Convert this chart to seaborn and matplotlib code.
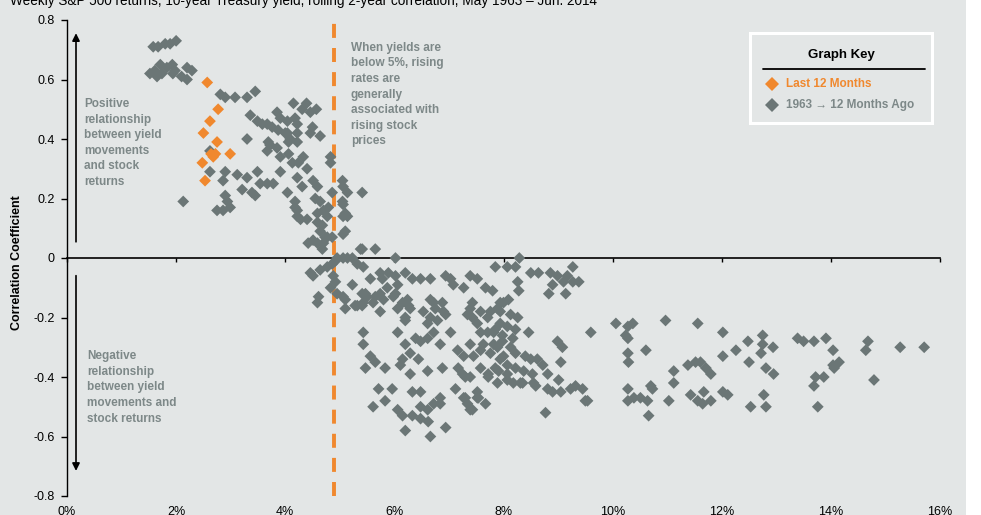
import numpy as np
import pandas as pd
import matplotlib
matplotlib.use("Agg")
import matplotlib.pyplot as plt
from matplotlib.patches import Rectangle
from matplotlib.lines import Line2D
import seaborn as sns

# colours
BG = "#e3e6e6"
GRAY = "#6b7676"
ORANGE = "#f0882e"
TXT = "#7d8888"

# ---- data: (10y yield %, rolling 2y correlation) ----
top_left = [(1.58, 0.71), (1.67, 0.71), (1.80, 0.72), (1.89, 0.72), (2.00, 0.73),
            (1.52, 0.62), (1.61, 0.63), (1.71, 0.65), (1.74, 0.62), (1.83, 0.64),
            (1.93, 0.65), (1.94, 0.62), (1.98, 0.63), (2.20, 0.64), (2.29, 0.63),
            (2.20, 0.60), (1.65, 0.61), (2.10, 0.61)]

upper_mid = [(2.81, 0.55), (2.90, 0.54), (3.08, 0.54), (3.30, 0.54), (3.45, 0.56),
             (3.36, 0.48), (3.49, 0.46), (3.58, 0.45), (3.67, 0.45), (3.76, 0.44),
             (3.85, 0.49), (3.91, 0.47), (4.04, 0.46), (4.15, 0.52), (4.31, 0.50),
             (4.18, 0.47), (4.22, 0.45), (3.87, 0.43), (4.04, 0.42), (4.22, 0.42),
             (4.50, 0.44), (4.64, 0.41), (3.30, 0.40), (3.72, 0.38), (3.85, 0.37),
             (4.06, 0.39), (4.22, 0.39), (4.33, 0.34), (3.91, 0.34), (3.67, 0.36),
             (2.62, 0.36), (4.83, 0.34), (4.39, 0.52), (4.57, 0.50), (4.46, 0.49)]

falling_arm = [(3.69, 0.39), (4.00, 0.42), (4.09, 0.40), (4.46, 0.42), (4.06, 0.35),
               (4.13, 0.32), (4.24, 0.32), (4.40, 0.30), (4.22, 0.27), (4.83, 0.32),
               (2.62, 0.29), (2.90, 0.29), (3.12, 0.28), (3.30, 0.27), (3.49, 0.29),
               (2.86, 0.26), (3.21, 0.23), (3.39, 0.22), (3.45, 0.21), (3.54, 0.25),
               (3.67, 0.25), (3.78, 0.25), (3.91, 0.29), (4.04, 0.22), (4.18, 0.19),
               (4.31, 0.24), (4.51, 0.26), (4.59, 0.24), (4.55, 0.20), (4.64, 0.19),
               (4.22, 0.16), (4.28, 0.13), (4.40, 0.13), (4.59, 0.15), (4.70, 0.16),
               (4.77, 0.14), (4.68, 0.11), (4.64, 0.09), (4.77, 0.07), (4.51, 0.06),
               (4.42, 0.05), (4.70, 0.05), (4.86, 0.07), (4.86, 0.22), (5.05, 0.26),
               (5.06, 0.24), (5.14, 0.22), (5.05, 0.19), (5.10, 0.15), (5.14, 0.14),
               (5.10, 0.09), (5.41, 0.22), (2.13, 0.19), (2.90, 0.21), (2.94, 0.19),
               (2.75, 0.16), (2.86, 0.16), (2.99, 0.17), (5.41, 0.03), (5.06, 0.00),
               (4.95, 0.00)]

near_zero = [(4.18, 0.17), (4.22, 0.14), (4.59, 0.12), (4.79, 0.17), (5.06, 0.18),
             (5.06, 0.14), (5.06, 0.08), (4.59, 0.05), (4.68, 0.03), (4.73, 0.07),
             (4.86, -0.02), (4.92, -0.01), (5.14, 0.00), (5.23, 0.00), (5.38, 0.03),
             (5.65, 0.03), (6.02, 0.00), (5.32, -0.02), (5.43, -0.03), (4.46, -0.05),
             (4.61, -0.13), (4.59, -0.15), (4.83, -0.10), (4.92, -0.08), (5.06, -0.13),
             (5.10, -0.17), (5.23, -0.09), (5.41, -0.12), (5.50, -0.13), (5.56, -0.07),
             (5.74, -0.05), (5.78, -0.07), (5.89, -0.05), (6.02, -0.06), (6.20, -0.05),
             (6.33, -0.07), (6.48, -0.07), (6.66, -0.07), (6.94, -0.06), (7.03, -0.07),
             (6.06, -0.09), (5.87, -0.10), (5.74, -0.12), (5.80, -0.14), (5.61, -0.15),
             (5.32, -0.16), (5.41, -0.16), (5.74, -0.18), (5.98, -0.13), (6.24, -0.14),
             (6.29, -0.17), (6.20, -0.20), (6.66, -0.14), (6.75, -0.17), (6.90, -0.18),
             (7.08, -0.09), (4.88, -0.06), (4.77, -0.03), (4.51, -0.06), (4.64, -0.04)]

mid_cloud = [(4.95, -0.12), (5.10, -0.14), (5.28, -0.16), (5.43, -0.15), (5.47, -0.12),
             (5.65, -0.13), (6.02, -0.12), (6.15, -0.15), (6.26, -0.16), (6.06, -0.17),
             (6.20, -0.21), (6.53, -0.18), (6.66, -0.20), (6.72, -0.15), (6.88, -0.15),
             (6.94, -0.19), (6.61, -0.22), (6.79, -0.21), (5.43, -0.25), (5.43, -0.29),
             (5.56, -0.33), (5.47, -0.37), (5.65, -0.35), (5.83, -0.37), (6.06, -0.25),
             (6.20, -0.29), (6.29, -0.32), (6.15, -0.34), (6.11, -0.36), (6.29, -0.39),
             (6.39, -0.27), (6.48, -0.28), (6.61, -0.27), (6.72, -0.25), (6.84, -0.29),
             (6.44, -0.34), (6.61, -0.38), (6.88, -0.37), (7.03, -0.25), (7.16, -0.31),
             (7.27, -0.33), (7.17, -0.37), (7.39, -0.29), (7.45, -0.33), (7.63, -0.29),
             (7.76, -0.32), (7.89, -0.30), (8.00, -0.33), (7.25, -0.39), (7.39, -0.40),
             (7.58, -0.37), (7.72, -0.39), (7.91, -0.38), (8.07, -0.39), (7.39, -0.17),
             (7.43, -0.15), (7.71, -0.20), (7.89, -0.17), (8.00, -0.15), (7.52, -0.22),
             (7.82, -0.25), (7.98, -0.26), (5.71, -0.44), (5.96, -0.44), (6.33, -0.45),
             (6.48, -0.45), (6.84, -0.47), (7.12, -0.44), (7.27, -0.47), (7.34, -0.49),
             (7.52, -0.47), (7.67, -0.49), (7.39, -0.51), (5.61, -0.50), (5.83, -0.48),
             (6.06, -0.51), (6.15, -0.53), (6.33, -0.53), (6.48, -0.54), (6.48, -0.50),
             (6.61, -0.51), (6.72, -0.49), (6.84, -0.49), (6.62, -0.55), (6.20, -0.58),
             (6.66, -0.60), (6.94, -0.57)]

right_cloud = [(8.29, 0.00), (7.85, -0.03), (8.07, -0.03), (8.22, -0.03), (8.50, -0.05),
               (8.64, -0.05), (8.86, -0.05), (8.99, -0.06), (9.17, -0.06), (9.27, -0.03),
               (9.38, -0.08), (9.27, -0.08), (9.10, -0.08), (8.90, -0.09), (8.83, -0.12),
               (9.14, -0.12), (8.26, -0.08), (8.28, -0.11), (8.09, -0.14), (7.94, -0.15),
               (7.39, -0.06), (7.52, -0.07), (7.67, -0.10), (7.80, -0.11), (7.27, -0.10),
               (7.34, -0.19), (7.43, -0.20), (7.58, -0.18), (7.76, -0.18), (7.94, -0.18),
               (8.13, -0.19), (8.26, -0.20), (7.94, -0.22), (8.07, -0.23), (8.22, -0.24),
               (8.17, -0.27), (7.85, -0.24), (7.71, -0.25), (7.58, -0.25), (7.58, -0.31),
               (7.82, -0.29), (7.98, -0.28), (8.13, -0.30), (8.22, -0.32), (8.46, -0.25),
               (8.40, -0.33), (8.50, -0.34), (8.62, -0.34), (8.72, -0.36), (8.81, -0.39),
               (7.94, -0.34), (8.07, -0.36), (8.22, -0.37), (8.37, -0.38), (8.35, -0.42),
               (8.55, -0.42), (8.59, -0.43), (8.53, -0.39), (7.85, -0.37), (7.72, -0.40),
               (7.30, -0.40), (7.89, -0.42), (8.07, -0.41), (8.18, -0.42), (8.31, -0.42),
               (8.99, -0.28), (9.08, -0.30), (9.05, -0.35), (9.01, -0.41), (8.81, -0.44),
               (8.90, -0.45), (9.05, -0.45), (9.23, -0.44), (9.32, -0.43), (9.45, -0.44),
               (9.54, -0.48), (7.30, -0.47), (7.52, -0.45), (7.54, -0.47), (7.43, -0.51),
               (8.77, -0.52), (9.60, -0.25)]

high_yield = [(10.06, -0.22), (10.28, -0.23), (10.37, -0.22), (10.24, -0.26), (10.28, -0.27),
              (10.97, -0.21), (11.56, -0.22), (12.02, -0.25), (12.48, -0.28), (12.75, -0.26),
              (12.75, -0.29), (12.72, -0.32), (12.94, -0.30), (12.26, -0.31), (12.02, -0.33),
              (10.61, -0.31), (10.28, -0.32), (10.29, -0.35), (11.12, -0.38), (11.12, -0.42),
              (11.38, -0.36), (11.52, -0.35), (11.61, -0.35), (11.71, -0.37), (11.80, -0.39),
              (12.50, -0.35), (12.81, -0.37), (12.95, -0.39), (13.39, -0.27), (13.50, -0.28),
              (13.69, -0.28), (13.91, -0.27), (14.04, -0.31), (14.15, -0.35), (14.04, -0.36),
              (14.06, -0.37), (13.87, -0.40), (13.72, -0.40), (13.69, -0.43), (13.76, -0.50),
              (14.68, -0.28), (14.64, -0.31), (14.79, -0.41), (15.27, -0.30), (15.71, -0.30),
              (9.50, -0.48), (10.28, -0.44), (10.39, -0.47), (10.28, -0.48), (10.51, -0.47),
              (10.64, -0.48), (10.70, -0.43), (10.73, -0.44), (10.66, -0.53), (11.03, -0.48),
              (11.43, -0.46), (11.56, -0.48), (11.67, -0.45), (11.65, -0.49), (11.80, -0.48),
              (12.02, -0.45), (12.11, -0.46), (12.77, -0.46), (12.53, -0.50), (12.81, -0.50)]

last_12m = [(2.57, 0.59), (2.77, 0.50), (2.62, 0.46), (2.50, 0.42), (2.75, 0.39),
            (2.64, 0.35), (2.72, 0.35), (2.68, 0.34), (2.99, 0.35), (2.48, 0.32),
            (2.53, 0.26)]

x_ticks = [0, 2, 4, 6, 8, 10, 12, 14, 16]
x_labels = ["0%", "2%", "4%", "6%", "8%", "10%", "12%", "14%", "16%"]
y_ticks = [-0.8, -0.6, -0.4, -0.2, 0, 0.2, 0.4, 0.6, 0.8]
y_labels = ["-0.8", "-0.6", "-0.4", "-0.2", "0", "0.2", "0.4", "0.6", "0.8"]
threshold = 4.9

title = ("Weekly S&P 500 returns, 10-year Treasury yield, rolling 2-year correlation, "
         "May 1963 \u2013 Jun. 2014")
pos_note = "Positive\nrelationship\nbetween yield\nmovements\nand stock\nreturns"
neg_note = "Negative\nrelationship\nbetween yield\nmovements and\nstock returns"
mid_note = ("When yields are\nbelow 5%, rising\nrates are\ngenerally\nassociated with\n"
            "rising stock\nprices")

hist = top_left + upper_mid + falling_arm + near_zero + mid_cloud + right_cloud + high_yield
df = pd.DataFrame(hist + last_12m, columns=["yield", "corr"])
df["period"] = ["1963 \u2192 12 Months Ago"] * len(hist) + ["Last 12 Months"] * len(last_12m)

# ---- style ----
sns.set_theme(style="white")
plt.rcParams["font.family"] = ["Liberation Sans", "DejaVu Sans"]

W, H = 981, 515
fig = plt.figure(figsize=(W / 100, H / 100), dpi=100)
fig.patch.set_facecolor("white")
fig.patches.append(Rectangle((0, 0), 966 / W, 1, transform=fig.transFigure,
                             facecolor=BG, edgecolor="none", zorder=-10))

ax = fig.add_axes([67 / W, 19 / H, 873 / W, 476 / H])
ax.set_facecolor("none")

sns.scatterplot(data=df, x="yield", y="corr", hue="period",
                palette={"1963 \u2192 12 Months Ago": GRAY, "Last 12 Months": ORANGE},
                marker="D", s=36, linewidth=0, legend=False, ax=ax, zorder=3)

ax.set_xlim(0, 16)
ax.set_ylim(-0.8, 0.8)
ax.set_xticks(x_ticks)
ax.set_xticklabels(x_labels)
ax.set_yticks(y_ticks)
ax.set_yticklabels(y_labels)
ax.set_xlabel("")
ax.set_ylabel("Correlation Coefficient", fontsize=9, fontweight="bold", color="black")
ax.yaxis.set_label_coords(-44 / 873, 0.49)

for s in ["top", "right", "bottom"]:
    ax.spines[s].set_visible(False)
ax.spines["left"].set_color("black")
ax.spines["left"].set_linewidth(1.0)
ax.tick_params(axis="x", length=0, pad=7, labelsize=9, labelcolor="black")
ax.tick_params(axis="y", left=True, direction="out", length=4, width=1,
               color="black", labelsize=9, labelcolor="black", pad=5)

# zero line with small ticks
sec = ax.secondary_xaxis(0.4999)
sec.set_xticks(x_ticks)
sec.tick_params(bottom=True, top=False, labelbottom=False, labeltop=False,
                direction="out", length=3, width=1, color="black")
for s in sec.spines.values():
    s.set_color("black")
    s.set_linewidth(1.2)

# 5% threshold line
ax.axvline(threshold, color=ORANGE, lw=2.8, dashes=(3.6, 2.6), zorder=2)

# arrows and notes
ax.annotate("", xy=(0.165, 0.765), xytext=(0.165, 0.045),
            arrowprops=dict(arrowstyle="-|>", color="black", lw=1.2, mutation_scale=11))
ax.annotate("", xy=(0.165, -0.725), xytext=(0.165, -0.05),
            arrowprops=dict(arrowstyle="-|>", color="black", lw=1.2, mutation_scale=11))
ax.text(0.31, 0.538, pos_note, color=TXT, fontsize=8.5, fontweight="bold",
        va="top", ha="left", linespacing=1.4)
ax.text(0.37, -0.31, neg_note, color=TXT, fontsize=8.5, fontweight="bold",
        va="top", ha="left", linespacing=1.4)
ax.text(5.2, 0.727, mid_note, color=TXT, fontsize=8.5, fontweight="bold",
        va="top", ha="left", linespacing=1.4)

# title (cropped at the top of the picture)
fig.text(10 / W, 1 - 5 / H, title, fontsize=9.8, color="black", va="baseline", ha="left")

# graph key
fig.patches.append(Rectangle((750 / W, 1 - 123 / H), 182 / W, 90 / H,
                             transform=fig.transFigure, facecolor=BG,
                             edgecolor="white", linewidth=2.2, zorder=5))
fig.text(841 / W, 1 - 55 / H, "Graph Key", fontsize=9.5, fontweight="bold",
         color="black", ha="center", va="center", zorder=6)
fig.lines.append(Line2D([763 / W, 925 / W], [1 - 69 / H, 1 - 69 / H],
                        transform=fig.transFigure, color="black", lw=1.3, zorder=6))
fig.lines.append(Line2D([772 / W], [1 - 84 / H], transform=fig.transFigure, marker="D",
                        markersize=7, color=ORANGE, markeredgewidth=0, lw=0, zorder=6))
fig.lines.append(Line2D([772 / W], [1 - 105 / H], transform=fig.transFigure, marker="D",
                        markersize=7, color=GRAY, markeredgewidth=0, lw=0, zorder=6))
fig.text(786 / W, 1 - 84 / H, "Last 12 Months", fontsize=8.5, fontweight="bold",
         color=ORANGE, ha="left", va="center", zorder=6)
fig.text(786 / W, 1 - 105 / H, "1963 \u2192 12 Months Ago", fontsize=8.5, fontweight="bold",
         color=TXT, ha="left", va="center", zorder=6)

fig.savefig("out.png", dpi=100, facecolor=fig.get_facecolor())
